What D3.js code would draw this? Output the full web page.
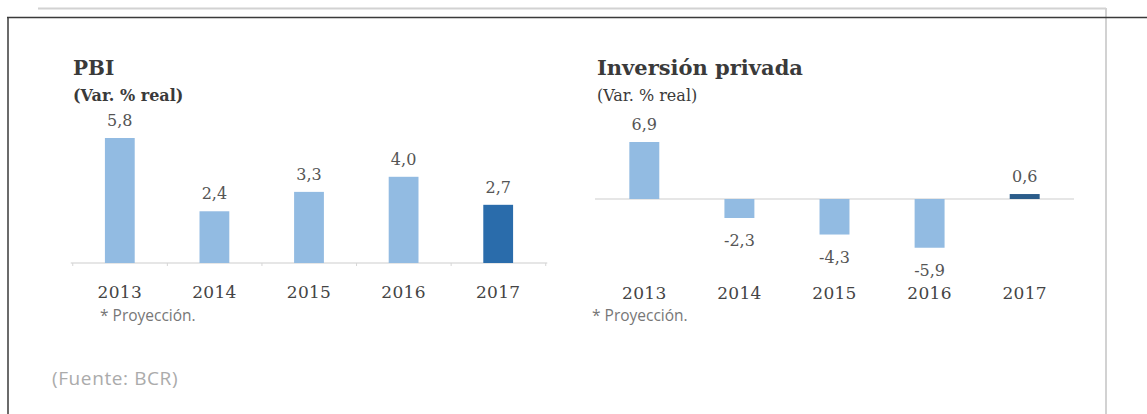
<!DOCTYPE html>
<html>
<head>
<meta charset="utf-8">
<script src="https://cdn.jsdelivr.net/npm/d3@7"></script>
<style>
  html, body { margin: 0; padding: 0; background: #ffffff; }
  svg { display: block; }
</style>
</head>
<body>
<svg id="chart" width="1147" height="414"></svg>
<script>
// Years shown on both panels
const years = ["2013", "2014", "2015", "2016", "2017"];
// Real GDP growth (%)
const pbiValues = [5.8, 2.4, 3.3, 4.0, 2.7];
// Private investment growth (%)
const inversionValues = [6.9, -2.3, -4.3, -5.9, 0.6];
// Value labels as printed (decimal comma)
const pbiLabels = ["5,8", "2,4", "3,3", "4,0", "2,7"];
const inversionLabels = ["6,9", "-2,3", "-4,3", "-5,9", "0,6"];
// Index of the projected year
const projectedIndex = 4;

const svg = d3.select("#chart");

// Page frame
svg.append("line").attr("x1", 38).attr("x2", 1106).attr("y1", 8.5).attr("y2", 8.5)
  .attr("stroke", "#d2d2d2").attr("stroke-width", 2);
svg.append("line").attr("x1", 1106).attr("x2", 1106).attr("y1", 8).attr("y2", 414)
  .attr("stroke", "#d2d2d2").attr("stroke-width", 2);
svg.append("line").attr("x1", 7).attr("x2", 1147).attr("y1", 17.5).attr("y2", 17.5)
  .attr("stroke", "#3a3a3a").attr("stroke-width", 1.5);
svg.append("line").attr("x1", 8).attr("x2", 8).attr("y1", 17).attr("y2", 414)
  .attr("stroke", "#3a3a3a").attr("stroke-width", 1.5);

const serif = "'DejaVu Serif', serif";
const sans = "'Open Sans', sans-serif";

function panel(cfg) {
  const g = svg.append("g");

  const x = d3.scaleBand().domain(years).range(cfg.xRange).paddingInner(0.685).paddingOuter(0.34);
  const y = d3.scaleLinear().domain([0, cfg.refValue]).range([cfg.zeroY, cfg.refY]);

  // Titles
  g.append("text").attr("x", cfg.titleX).attr("y", 75)
    .attr("font-family", serif).attr("font-weight", "bold").attr("font-size", cfg.titleSize)
    .attr("fill", "#3a3a3a").text(cfg.title);
  g.append("text").attr("x", cfg.titleX).attr("y", 101)
    .attr("font-family", serif).attr("font-weight", cfg.subWeight).attr("font-size", 16)
    .attr("fill", "#3a3a3a").text("(Var. % real)");

  // Zero line
  const axisG = g.append("g").attr("transform", `translate(0,${cfg.zeroY})`);
  axisG.append("line").attr("x1", cfg.xRange[0] - 2).attr("x2", cfg.xRange[1] + 2)
    .attr("stroke", "#dedede").attr("stroke-width", 1.5);
  if (cfg.ticks) {
    const step = x.step();
    axisG.selectAll("line.tk").data(d3.range(years.length + 1)).join("line")
      .attr("class", "tk")
      .attr("x1", i => cfg.xRange[0] + i * step).attr("x2", i => cfg.xRange[0] + i * step)
      .attr("y1", 0).attr("y2", 3).attr("stroke", "#d6d6d6");
  }

  // Bars
  g.selectAll("rect.bar").data(cfg.values).join("rect")
    .attr("class", "bar")
    .attr("x", (d, i) => x(years[i]))
    .attr("width", x.bandwidth())
    .attr("y", d => Math.min(y(d), y(0)))
    .attr("height", d => Math.abs(y(d) - y(0)))
    .attr("fill", (d, i) => i === projectedIndex ? cfg.projColor : "#92bbe2");

  // Value labels
  g.selectAll("text.val").data(cfg.values).join("text")
    .attr("class", "val")
    .attr("x", (d, i) => x(years[i]) + x.bandwidth() / 2)
    .attr("y", d => d >= 0 ? y(d) - 12 : y(d) + 28)
    .attr("text-anchor", "middle")
    .attr("font-family", serif).attr("font-size", 16).attr("fill", "#555555")
    .text((d, i) => cfg.labels[i]);

  // Category axis labels
  const xAxis = d3.axisBottom(x).tickSize(0).tickPadding(0);
  const xg = g.append("g").attr("transform", `translate(0,${cfg.yearY})`).call(xAxis);
  xg.select(".domain").remove();
  xg.selectAll("text")
    .attr("dy", 0)
    .attr("font-family", serif).attr("font-size", 17).attr("fill", "#444444")
    .attr("letter-spacing", 0.3);

  // Footnote
  g.append("text").attr("x", cfg.noteX).attr("y", cfg.noteY)
    .attr("font-family", sans).attr("font-size", 15.5).attr("fill", "#777777")
    .text("* Proyección.");
}

panel({
  title: "PBI", titleX: 73, titleSize: 20, subWeight: "bold",
  values: pbiValues, labels: pbiLabels,
  xRange: [72.75, 545.25], zeroY: 263, refValue: 5.8, refY: 138,
  projColor: "#2a6cab", ticks: true,
  yearY: 298, noteX: 100, noteY: 321
});

panel({
  title: "Inversión privada", titleX: 597, titleSize: 21, subWeight: "normal",
  values: inversionValues, labels: inversionLabels,
  xRange: [597, 1072], zeroY: 199, refValue: 6.9, refY: 142,
  projColor: "#2b5c8a", ticks: false,
  yearY: 299, noteX: 592, noteY: 321
});

// Source note
svg.append("text").attr("x", 52).attr("y", 385)
  .attr("font-family", sans).attr("font-size", 19).attr("fill", "#ababab")
  .attr("letter-spacing", 0.6)
  .text("(Fuente: BCR)");
</script>
</body>
</html>
